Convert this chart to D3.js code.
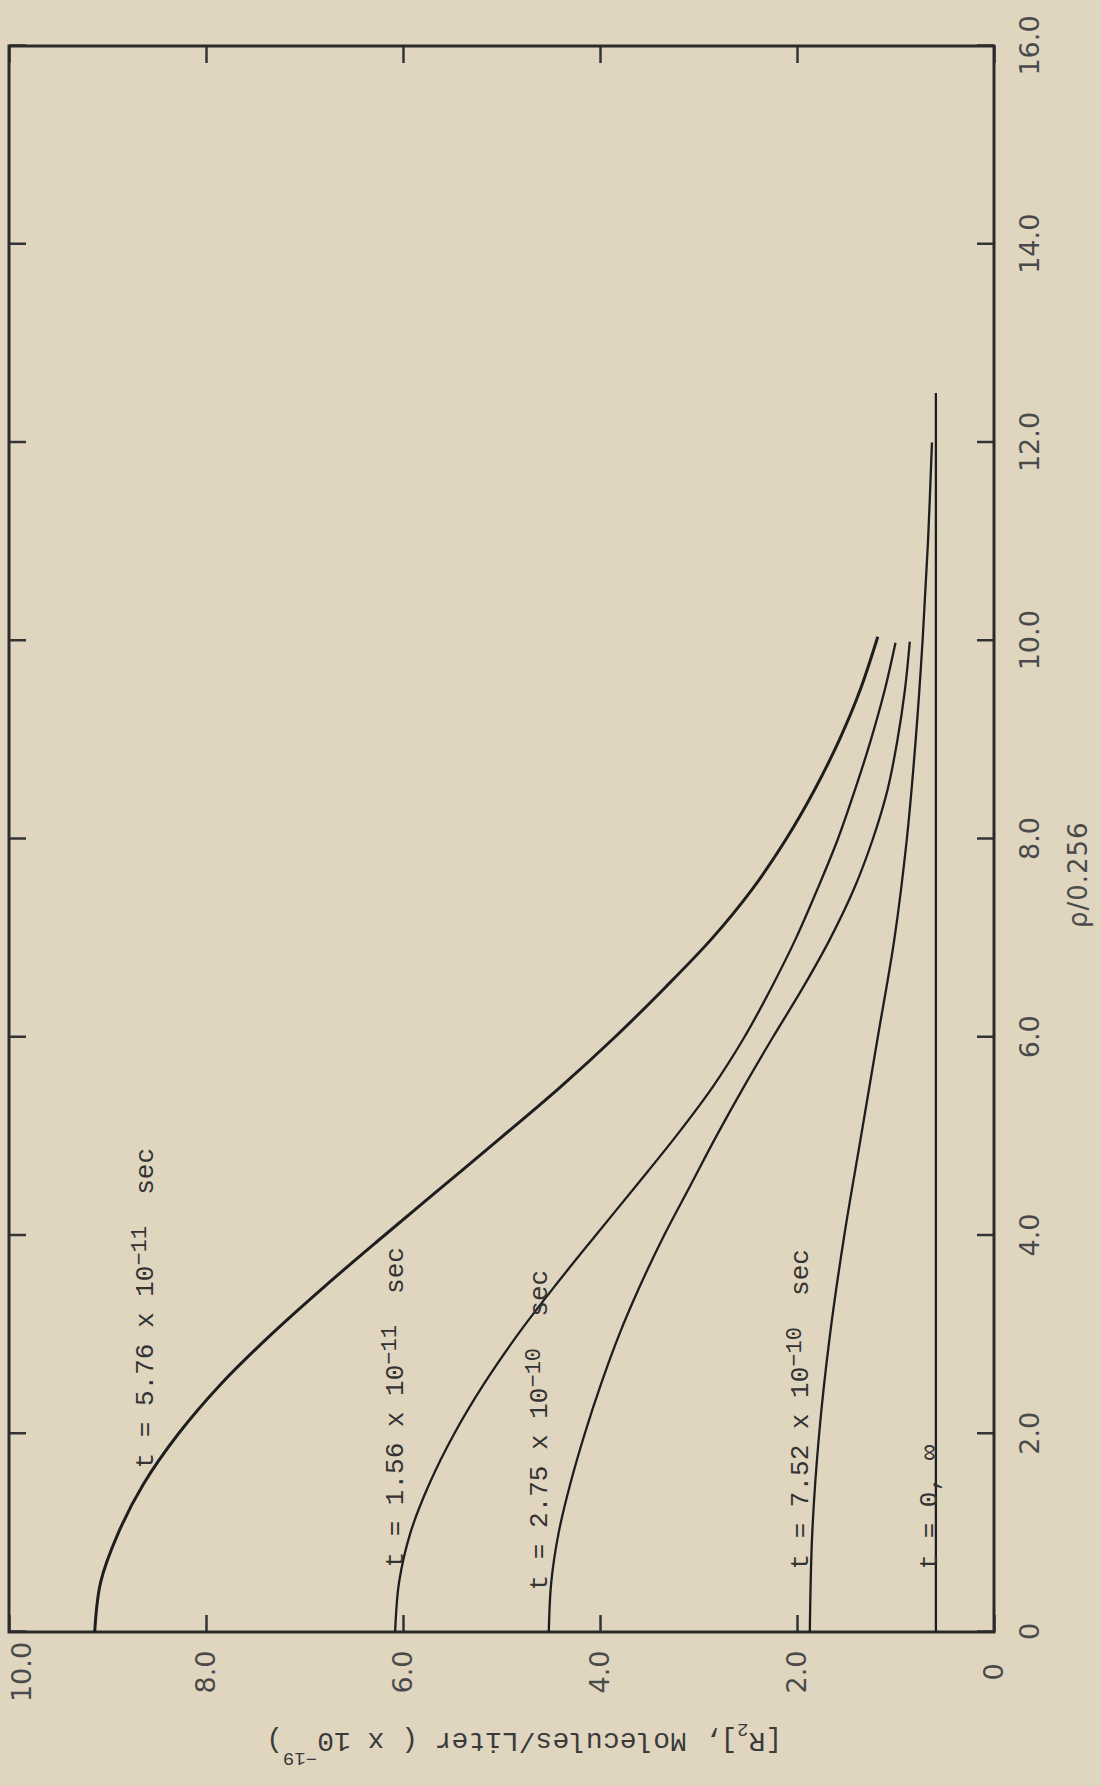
<!DOCTYPE html>
<html>
<head>
<meta charset="utf-8">
<script src="https://cdn.jsdelivr.net/npm/d3@7"></script>
<style>
  body { margin: 0; background: #e0d6c0; }
  svg { display: block; }
</style>
</head>
<body>
<svg width="1101" height="1786"></svg>
<script>
// [rho/0.256, [R2]] pairs, one array per time
var t576e11 = [[0, 9.13], [0.5, 9.07], [1, 8.89], [1.5, 8.63], [2, 8.28], [2.5, 7.85], [3, 7.34],
               [3.5, 6.78], [4, 6.19], [4.5, 5.59], [5, 4.99], [5.5, 4.40], [6, 3.85], [6.5, 3.34],
               [7, 2.86], [7.5, 2.45], [8, 2.11], [8.5, 1.82], [9, 1.57], [9.5, 1.36], [10.04, 1.18]];
var t156e11 = [[0, 6.08], [0.5, 6.04], [1, 5.925], [1.5, 5.73], [2, 5.48], [2.5, 5.18], [3, 4.835],
               [3.5, 4.45], [4, 4.045], [4.5, 3.635], [5, 3.23], [5.5, 2.855], [6, 2.535], [6.5, 2.26],
               [7, 2.01], [7.5, 1.79], [8, 1.585], [8.5, 1.41], [9, 1.25], [9.5, 1.11], [9.98, 1.0]];
var t275e10 = [[0, 4.52], [0.5, 4.495], [1, 4.42], [1.5, 4.30], [2, 4.155], [2.5, 3.99], [3, 3.805],
               [3.5, 3.59], [4, 3.35], [4.5, 3.085], [5, 2.82], [5.5, 2.54], [6, 2.245], [6.5, 1.94],
               [7, 1.66], [7.5, 1.42], [8, 1.23], [8.5, 1.08], [9, 0.98], [9.5, 0.905], [9.99, 0.855]];
var t752e10 = [[0, 1.87], [1, 1.845], [2, 1.775], [3, 1.665], [4, 1.52], [5, 1.35], [6, 1.18],
               [7, 1.01], [8, 0.885], [9, 0.795], [10, 0.725], [11, 0.67], [12, 0.63]];
var t0inf   = [[0, 0.59], [12.5, 0.59]];

var series = [t576e11, t156e11, t275e10, t752e10, t0inf];
var curveLabels = [
    ["t = 5.76 x 10", "\u221211", "  sec"],
    ["t = 1.56 x 10", "\u221211", "  sec"],
    ["t = 2.75 x 10", "\u221210", "  sec"],
    ["t = 7.52 x 10", "\u221210", "  sec"],
    ["t = 0, \u221e", "", ""]
];
var xTicks = [0, 2, 4, 6, 8, 10, 12, 14, 16];
var yTicks = [0, 2, 4, 6, 8, 10];

var svg = d3.select("svg"),
    left = 9,
    bottom = 1632,
    width = 1586,   // rho axis, runs up the page
    height = 985;   // [R2] axis, runs across the page

svg.append("rect").attr("width", 1101).attr("height", 1786).attr("fill", "#e0d6c0");

var x = d3.scaleLinear().domain([0, 16]).range([0, width]),
    y = d3.scaleLinear().domain([0, 10]).range([height, 0]);

// the sheet was scanned a quarter turn round, so draw flat and turn it
var g = svg.append("g")
    .attr("transform", "translate(" + left + "," + bottom + ") rotate(-90)");

function fmt(d) { return d === 0 ? "0" : d.toFixed(1); }

g.append("g")
    .attr("transform", "translate(0," + height + ")")
    .call(d3.axisBottom(x).tickValues(xTicks).tickSize(-17).tickPadding(26).tickFormat(fmt));

var ay = g.append("g")
    .call(d3.axisLeft(y).tickValues(yTicks).tickSize(-17).tickFormat(fmt));
ay.selectAll("text").attr("x", -40).attr("text-anchor", "middle");
ay.selectAll("text").filter(d => d === 10).attr("y", 13);

g.append("g").call(d3.axisTop(x).tickValues(xTicks).tickSize(-17).tickFormat(""));
g.append("g").attr("transform", "translate(" + width + ",0)")
    .call(d3.axisRight(y).tickValues(yTicks).tickSize(-17).tickFormat(""));

g.selectAll(".domain").remove();
g.selectAll(".tick line").attr("stroke", "#333").attr("stroke-width", 2.5);
g.selectAll(".tick text")
    .attr("font-family", "DejaVu Sans")
    .attr("font-size", 27)
    .attr("fill", "#4a4a4a");

g.append("rect")
    .attr("width", width)
    .attr("height", height)
    .attr("fill", "none")
    .attr("stroke", "#2b2b2b")
    .attr("stroke-width", 3);

var line = d3.line()
    .x(d => x(d[0]))
    .y(d => y(d[1]))
    .curve(d3.curveCatmullRom.alpha(0.5));

g.selectAll(".curve")
    .data(series)
    .enter().append("path")
    .attr("class", "curve")
    .attr("d", line)
    .attr("fill", "none")
    .attr("stroke", "#1e1e1e")
    .attr("stroke-width", (d, i) => i === 0 ? 3 : 2.3);

// where each label starts: [rho, R2 of baseline]
var labelAt = [[1.65, 8.54], [0.65, 6.0], [0.42, 4.54], [0.63, 1.89], [0.63, 0.58]];

var lab = g.selectAll(".lab")
    .data(curveLabels)
    .enter().append("text")
    .attr("class", "lab")
    .attr("x", (d, i) => x(labelAt[i][0]))
    .attr("y", (d, i) => y(labelAt[i][1]))
    .attr("font-family", "Liberation Mono, monospace")
    .attr("font-size", 26)
    .attr("fill", "#333")
    .style("white-space", "pre");
lab.append("tspan").text(d => d[0]);
lab.append("tspan").attr("font-size", 22).attr("dy", -7).text(d => d[1]);
lab.append("tspan").attr("dy", 7).text(d => d[2]);

g.append("text")
    .attr("x", x(7.64))
    .attr("y", height + 93)
    .attr("text-anchor", "middle")
    .attr("font-family", "DejaVu Sans")
    .attr("font-size", 26)
    .attr("letter-spacing", 1)
    .attr("fill", "#4a4a4a")
    .text("\u03c1/0.256");

var yl = g.append("text")
    .attr("transform", "translate(-101," + y(4.77) + ") rotate(-90)")
    .attr("text-anchor", "middle")
    .attr("font-family", "Liberation Mono, monospace")
    .attr("font-size", 28)
    .attr("fill", "#3a3a3a")
    .style("white-space", "pre");
yl.append("tspan").text("[R");
yl.append("tspan").attr("font-size", 19).attr("dy", 9).text("2");
yl.append("tspan").attr("dy", -9).text("], Molecules/Liter ( x 10");
yl.append("tspan").attr("font-size", 19).attr("dy", -20).text("\u221219");
yl.append("tspan").attr("dy", 20).text(")");
</script>
</body>
</html>
